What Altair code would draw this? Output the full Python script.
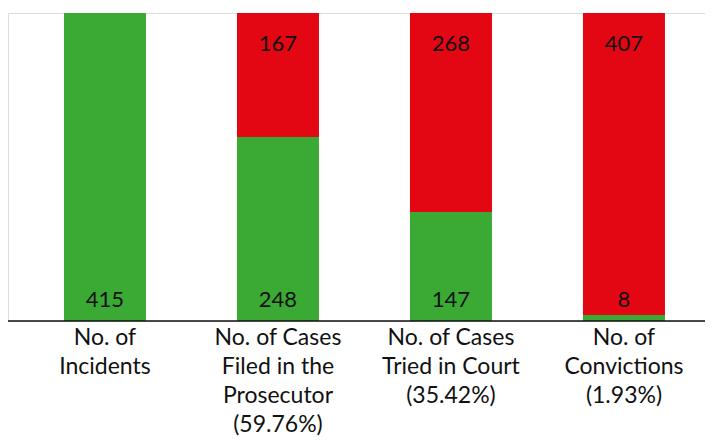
import altair as alt
import pandas as pd

categories = ["No. of|Incidents", "No. of Cases|Filed in the|Prosecutor|(59.76%)",
              "No. of Cases|Tried in Court|(35.42%)", "No. of|Convictions|(1.93%)"]
green_values = [415, 248, 147, 8]
red_values = [0, 167, 268, 407]

GREEN = "#3AAA35"
RED = "#E30613"
FONT = "Lato"
W, H = 697, 308

rows = []
for i, c in enumerate(categories):
    rows.append({"cat": c, "series": "a", "order": 0, "value": green_values[i]})
    rows.append({"cat": c, "series": "b", "order": 1, "value": red_values[i]})
df = pd.DataFrame(rows)

df_green = pd.DataFrame({"cat": categories, "value": green_values})
df_red = pd.DataFrame({"cat": categories, "value": red_values})
df_red = df_red[df_red["value"] > 0]

xscale = alt.Scale(domain=categories, paddingInner=0.526, paddingOuter=0.2775, align=0.583)
xenc = alt.X("cat:N", scale=xscale, sort=categories, title=None,
             axis=alt.Axis(labelAngle=0, labelExpr="split(datum.label, '|')",
                           labelFont=FONT, labelFontSize=23, labelColor="#111111",
                           labelLineHeight=29, labelPadding=5, domain=False,
                           ticks=False, labelBaseline="top", labelLimit=300))

bars = alt.Chart(df).mark_bar(stroke=None).encode(
    x=xenc,
    y=alt.Y("value:Q", stack="zero", scale=alt.Scale(domain=[0, 415], nice=False),
            axis=None),
    color=alt.Color("series:N", scale=alt.Scale(domain=["a", "b"], range=[GREEN, RED]),
                    legend=None),
    order=alt.Order("order:Q"),
)

green_text = alt.Chart(df_green).mark_text(
    font=FONT, fontSize=22, color="#111111", baseline="alphabetic"
).encode(x=alt.X("cat:N", scale=xscale, sort=categories), y=alt.value(H - 14),
         text="value:Q")

red_text = alt.Chart(df_red).mark_text(
    font=FONT, fontSize=22, color="#111111", baseline="alphabetic"
).encode(x=alt.X("cat:N", scale=xscale, sort=categories), y=alt.value(38),
         text="value:Q")

baseline = alt.Chart(pd.DataFrame({"v": [0]})).mark_rule(
    color="#111111", strokeWidth=1.5
).encode(x=alt.value(-1), x2=alt.value(W), y=alt.value(H))

chart = alt.layer(bars, green_text, red_text, baseline).properties(
    width=W, height=H,
    padding={"left": 0, "top": 5, "right": 0, "bottom": 117},
    autosize=alt.AutoSizeParams(type="none"),
).configure_view(stroke=None).configure(background="white")

chart.save("out.html", embed_options={"renderer": "svg", "actions": False})
